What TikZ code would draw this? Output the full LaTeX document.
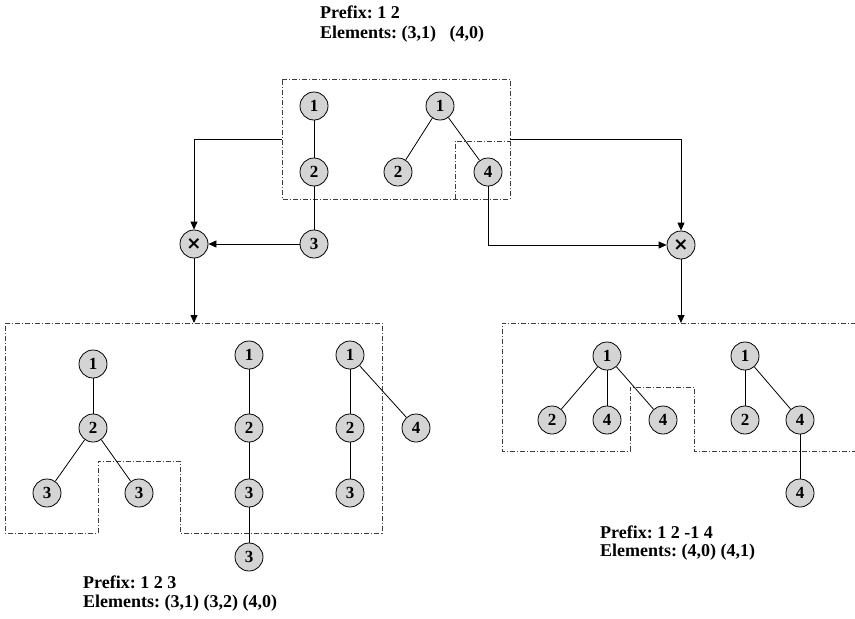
\documentclass[tikz,border=0pt]{standalone}
\usepackage{fontspec}
\setmainfont{Liberation Serif}
\newfontfamily\symfont{DejaVu Sans}
\usetikzlibrary{arrows.meta}
\tikzset{
  vtx/.style={circle,draw,fill={rgb,255:red,212;green,212;blue,212},minimum size=28pt,inner sep=0pt,font=\fontsize{17}{17}\selectfont\bfseries,line width=0.8pt},
  edge/.style={line width=0.8pt},
  dd/.style={line width=0.7pt,dash pattern=on 5pt off 2pt on 1pt off 2pt,draw={rgb,255:red,60;green,60;blue,60}},
  conn/.style={line width=0.8pt,-{Triangle[length=8pt,width=7pt]}},
  lbl/.style={anchor=base west,inner sep=0pt,font=\fontsize{18}{20}\selectfont\bfseries}
}
\begin{document}
\begin{tikzpicture}[x=1pt,y=-1pt]
\useasboundingbox (0,0) rectangle (855,619);
% top dashed box
\draw[dd] (282,79) -- (510,79) -- (510,199) -- (282,199) -- cycle;
\draw[dd] (455,199) -- (455,141) -- (510,141);
% top nodes
\node[vtx] (a1) at (314,106) {1};
\node[vtx] (a2) at (314,172) {2};
\node[vtx] (a3) at (314,244) {3};
\node[vtx] (b1) at (440,106) {1};
\node[vtx] (b2) at (398,172) {2};
\node[vtx] (b4) at (488,172) {4};
\draw[edge] (a1) -- (a2);
\draw[edge] (a2) -- (a3);
\draw[edge] (b1) -- (b2);
\draw[edge] (b1) -- (b4);
% join nodes
\node[vtx,font=\symfont\bfseries\fontsize{18}{18}\selectfont] (xl) at (194,244) {×};
\node[vtx,font=\symfont\bfseries\fontsize{18}{18}\selectfont] (xr) at (681,245) {×};
\coordinate (tl) at (282,139);
\coordinate (tr) at (510,139);
\draw[conn] (tl) -| (xl);
\draw[conn] (tr) -| (xr);
\draw[conn] (a3) -- (xl);
\draw[conn] (b4) |- (xr);
\coordinate (bl) at (194,323);
\coordinate (br) at (681,323);
\draw[conn] (xl) -- (bl);
\draw[conn] (xr) -- (br);
% bottom left box
\draw[dd] (5,323) -- (382,323) -- (382,533) -- (180,533) -- (180,461) -- (98,461) -- (98,533) -- (5,533) -- cycle;
\node[vtx] (c1) at (93,364) {1};
\node[vtx] (c2) at (93,428) {2};
\node[vtx] (c3) at (47,493) {3};
\node[vtx] (c4) at (139,493) {3};
\draw[edge] (c1) -- (c2);
\draw[edge] (c2) -- (c3);
\draw[edge] (c2) -- (c4);
\node[vtx] (d1) at (249,355) {1};
\node[vtx] (d2) at (249,428) {2};
\node[vtx] (d3) at (249,493) {3};
\node[vtx] (d4) at (249,557) {3};
\draw[edge] (d1) -- (d2);
\draw[edge] (d2) -- (d3);
\draw[edge] (d3) -- (d4);
\node[vtx] (e1) at (350,355) {1};
\node[vtx] (e2) at (350,428) {2};
\node[vtx] (e3) at (350,493) {3};
\node[vtx] (e4) at (416,428) {4};
\draw[edge] (e1) -- (e2);
\draw[edge] (e2) -- (e3);
\draw[edge] (e1) -- (e4);
% bottom right box
\draw[dd] (856,323) -- (502,323) -- (502,451) -- (630,451) -- (630,387) -- (694,387) -- (694,451) -- (856,451);
\node[vtx] (f1) at (607,356) {1};
\node[vtx] (f2) at (552,420) {2};
\node[vtx] (f3) at (607,420) {4};
\node[vtx] (f4) at (663,420) {4};
\draw[edge] (f1) -- (f2);
\draw[edge] (f1) -- (f3);
\draw[edge] (f1) -- (f4);
\node[vtx] (g1) at (745,356) {1};
\node[vtx] (g2) at (745,420) {2};
\node[vtx] (g3) at (800,420) {4};
\node[vtx] (g4) at (800,493) {4};
\draw[edge] (g1) -- (g2);
\draw[edge] (g1) -- (g3);
\draw[edge] (g3) -- (g4);
% labels
\node[lbl] (t1a) at (320,18) {Prefix:\ 1 2};
\node[lbl] (t1b) at (320,38) {Elements:\ (3,1)\ \ \ (4,0)};
\node[lbl] (t2a) at (83,588) {Prefix:\ 1 2 3};
\node[lbl] (t2b) at (83,607) {Elements:\ (3,1) (3,2) (4,0)};
\node[lbl] (t3a) at (600,538) {Prefix:\ 1 2 -1 4};
\node[lbl] (t3b) at (600,556) {Elements:\ (4,0) (4,1)};
\end{tikzpicture}
\end{document}
